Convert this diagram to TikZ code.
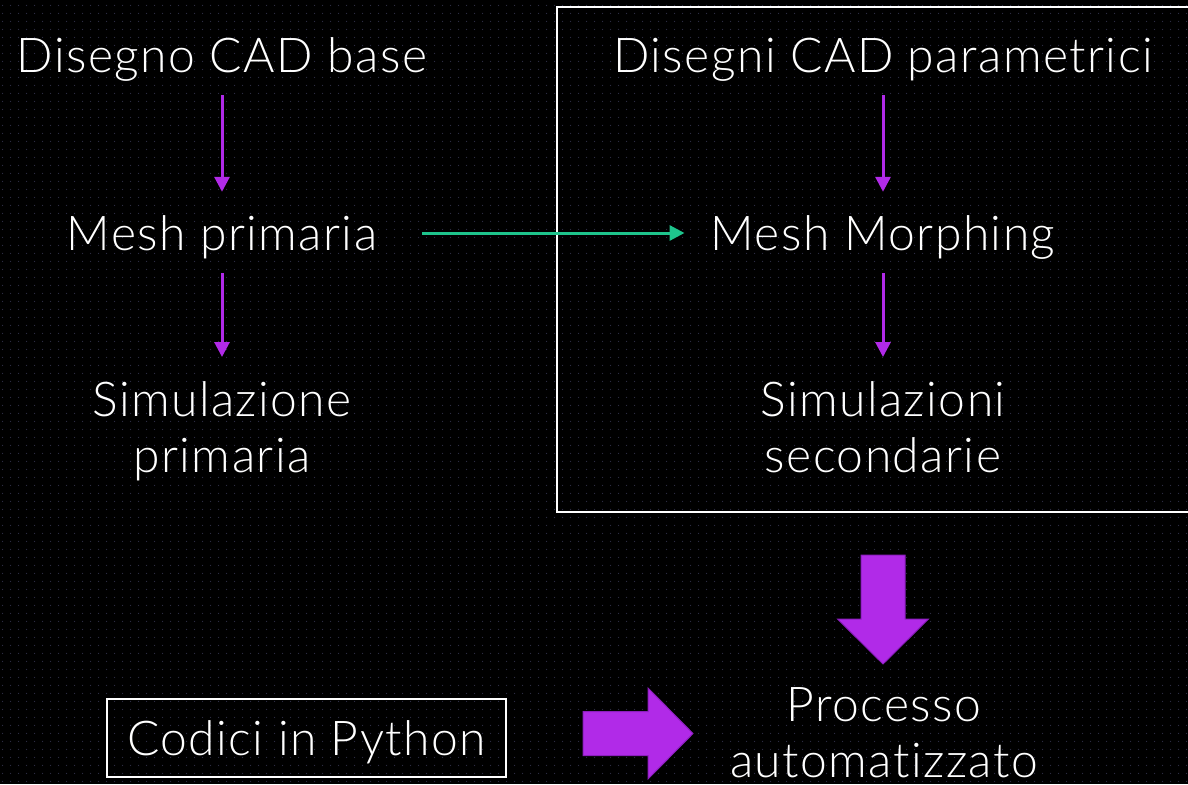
\documentclass[tikz,border=0pt]{standalone}
\usepackage{fontspec}
\setmainfont{Lato Light}[Ligatures=NoCommon, LetterSpace=3]
\usetikzlibrary{arrows.meta,patterns.meta}

\definecolor{dotgrey}{RGB}{44,44,66}
\definecolor{flowviolet}{RGB}{177,42,232}
\definecolor{edgeviolet}{RGB}{140,30,190}
\definecolor{flowgreen}{RGB}{30,196,140}

\tikzdeclarepattern{
  name=griddots,
  type=uncolored,
  bounding box={(0pt,0pt) and (8pt,8pt)},
  tile size={(8pt,8pt)},
  code={\fill (4pt,4pt) circle (0.75pt);}
}

\tikzset{
  lbl/.style={font=\fontsize{48}{56.5}\selectfont, text=white, inner sep=0pt,
    text height=34pt, text depth=0pt, anchor=base},
  lbltwo/.style={font=\fontsize{48}{56.5}\selectfont, text=white, inner sep=0pt,
    align=center, anchor=north},
  thinarrow/.style={draw=flowviolet, line width=3pt,
    -{Triangle[length=15pt,width=15pt]}, shorten <=23pt, shorten >=24pt},
  bigarrow/.style={fill=flowviolet, draw=edgeviolet, line width=1pt, line join=miter}
}

\begin{document}
\begin{tikzpicture}[x=1pt,y=-1pt] % one unit = one pixel of the slide
    % Background
    \fill[black] (0,0) rectangle (1188,784);
    \useasboundingbox (0,0) rectangle (1188,784);
    \fill[pattern=griddots, pattern color=dotgrey] (0,0) rectangle (1188,784);

    % Frame round the parametric chain (open on the right side)
    \draw[white, line width=2pt] (1200,7) -- (557,7) -- (557,512) -- (1200,512);

    % Left chain
    \node[lbl] (cad) at (222,72) {Disegno CAD base};
    \node[lbl] (meshp) at (222,250) {Mesh primaria};
    \node[lbltwo] (simp) at (222,381) {Simulazione\\primaria};

    % Right chain
    \node[lbl] (cadp) at (883,72) {Disegni CAD parametrici};
    \node[lbl] (morph) at (883,250) {Mesh Morphing};
    \node[lbltwo] (sims) at (883,381) {Simulazioni\\secondarie};

    % Bottom row
    \node[lbl, anchor=center, draw=white, line width=2pt,
      minimum width=399pt, minimum height=78pt] (py) at (306.5,738) {Codici in Python};
    \node[lbltwo] (proc) at (884,687) {Processo\\automatizzato};

    % Thin arrows
    \draw[thinarrow] (cad) -- (meshp);
    \draw[thinarrow] (meshp) -- (simp);
    \draw[thinarrow] (cadp) -- (morph);
    \draw[thinarrow] (morph) -- (sims);
    \draw[thinarrow, draw=flowgreen, shorten <=45pt, shorten >=26pt] (meshp) -- (morph);

    % Block arrows
    \def\sw{22} % half width of the shaft
    \def\hw{45.5} % half width of the head
    \filldraw[bigarrow] (883-\sw,555) -- (883+\sw,555) -- (883+\sw,619) -- (883+\hw,619)
      -- (883,664) -- (883-\hw,619) -- (883-\sw,619) -- cycle;
    \filldraw[bigarrow] (583,733.5-\sw) -- (648,733.5-\sw) -- (648,733.5-\hw) -- (693,733.5)
      -- (648,733.5+\hw) -- (648,733.5+\sw) -- (583,733.5+\sw) -- cycle;
\end{tikzpicture}
\end{document}
